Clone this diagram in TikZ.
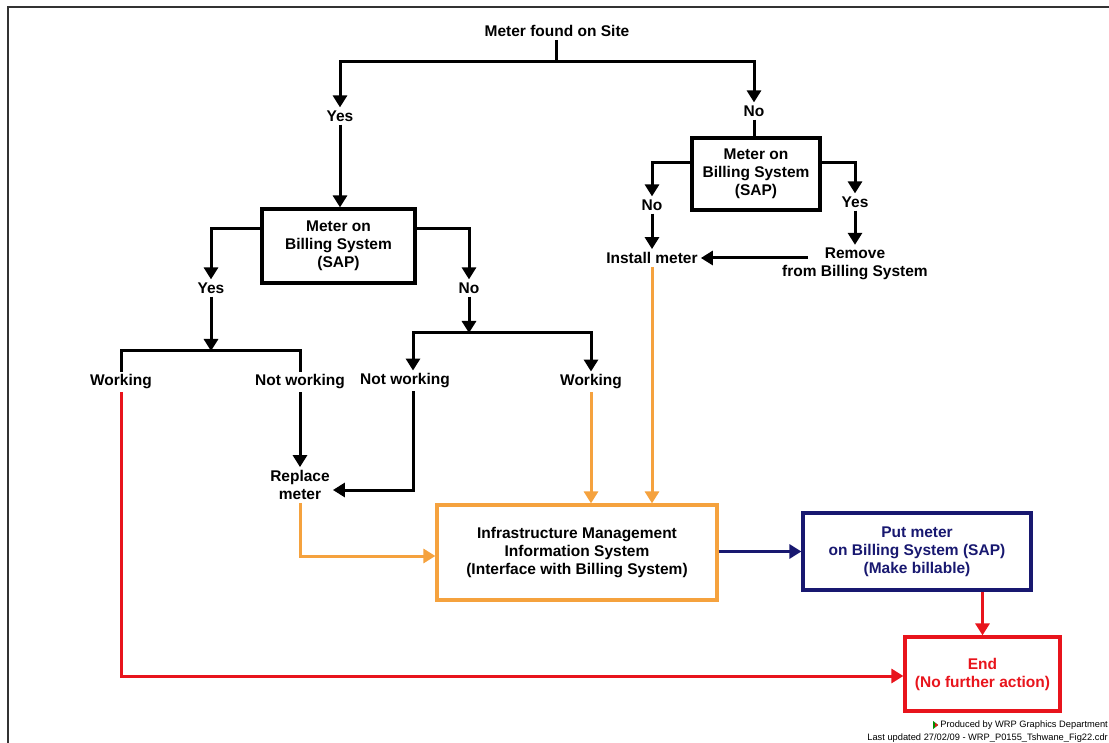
\documentclass[tikz,border=0pt]{standalone}
\usepackage{fontspec}
\setmainfont{Liberation Sans}
\usetikzlibrary{arrows.meta}
\definecolor{imisorange}{RGB}{245,162,62}
\definecolor{endred}{RGB}{232,20,28}
\definecolor{sapnavy}{RGB}{24,24,112}
\begin{document}
\begin{tikzpicture}[x=1pt, y=-1pt, line join=miter, >={Triangle[length=12pt,width=14pt]},
	every node/.style={font=\bfseries\fontsize{15.5}{18}\selectfont, align=center, inner sep=3pt},
	box/.style={draw, line width=3.2pt, inner sep=0pt},
	link/.style={line width=3pt},
	foot/.style={font=\fontsize{9.3}{10}\selectfont, inner sep=0pt}]
	\useasboundingbox (0,0) rectangle (1109,743);
	\draw[line width=1.2pt, black!80] (8,743)--(8,7)--(1109,7);
	%Nodes of the upper part
	\node (site) at (557,31) {Meter found on Site};
	\node (yes1) at (340,116) {Yes};
	\node (no1) at (754,111) {No};
	\node[box, minimum width=153, minimum height=74] (sap1) at (338.5,246) {Meter on\\Billing System\\(SAP)};
	\node[box, minimum width=128, minimum height=72] (sap2) at (756,174) {Meter on\\Billing System\\(SAP)};
	\node (yes2) at (211,288) {Yes};
	\node (no2) at (469,288) {No};
	\node (no3) at (652,205) {No};
	\node (yes3) at (855,202) {Yes};
	\node (inst) at (652,258) {Install meter};
	\node (rem) at (855,264) {Remove\\from Billing System};
	\coordinate (r1) at (808,258);
	%Working / not working
	\node (work1) at (121,382) {Working};
	\node (nwork1) at (300,382) {Not working};
	\node (nwork2) at (405,381) {Not working};
	\node (work2) at (591,382) {Working};
	\node (repl) at (300,485) {Replace\\meter};
	%Boxes of the lower part
	\node[box, draw=imisorange, minimum width=280, minimum height=95] (imis) at (577,552.5) {Infrastructure Management\\Information System\\(Interface with Billing System)};
	\node[box, draw=sapnavy, text=sapnavy, minimum width=228, minimum height=77] (bill) at (917,551.5) {Put meter\\on Billing System (SAP)\\(Make billable)};
	\node[box, draw=endred, text=endred, minimum width=155, minimum height=74] (end) at (982.5,674) {End\\(No further action)};
	%Connectors
	\coordinate (j1) at (556,62);
	\coordinate (j2) at (211,351);
	\coordinate (j3) at (469,333);
	\draw[link] (site.south -| j1) -- (j1);
	\draw[link,->] (j1) -| (yes1);
	\draw[link,->] (j1) -| (no1);
	\draw[link,->] (yes1) -- (yes1 |- sap1.north);
	\draw[link] (no1) -- (no1 |- sap2.north);
	\draw[link,->] (sap1.west |- 0,229) -| (yes2);
	\draw[link,->] (sap1.east |- 0,229) -| (no2);
	\draw[link,->] (sap2.west |- 0,163) -| (no3);
	\draw[link,->] (sap2.east |- 0,163) -| (yes3);
	\draw[link,->] (no3) -- (inst);
	\draw[link,->] (yes3) -- (rem);
	\draw[link,->] (r1) -- (inst);
	\draw[link,->] (yes2) -- (j2);
	\draw[link] (work1.north) |- (j2) -| (nwork1.north);
	\draw[link,->] (no2) -- (j3);
	\draw[link,->] (j3) -| ([xshift=8pt]nwork2.north);
	\draw[link,->] (j3) -| (work2);
	\draw[link,->] (nwork1) -- (repl);
	\draw[link,->] ([xshift=8pt]nwork2.south) |- (repl.east |- 0,490);
	\draw[link,->,imisorange] (work2) -- (work2 |- imis.north);
	\draw[link,->,imisorange] (inst) -- (inst |- imis.north);
	\draw[link,->,imisorange] (repl) |- (imis.west |- 0,556);
	\draw[link,->,sapnavy] (imis.east |- bill.west) -- (bill.west);
	\draw[link,->,endred] (end.north |- bill.south) -- (end.north);
	\draw[link,->,endred] (work1) |- (end.west |- 0,676);
	%Footer
	\node[foot, anchor=east] (prod) at (1108,725) {Produced by WRP Graphics Department};
	\fill[green!55!black] ([xshift=-7pt]prod.west) ++(0,-4) -- ++(5,4) -- ++(-5,4) -- cycle;
	\fill[endred] ([xshift=-5pt]prod.west) ++(0,-2) -- ++(3,2) -- ++(-3,2) -- cycle;
	\node[foot, anchor=east] (upd) at (1108,738) {Last updated 27/02/09 - WRP\_P0155\_Tshwane\_Fig22.cdr};
\end{tikzpicture}
\end{document}
